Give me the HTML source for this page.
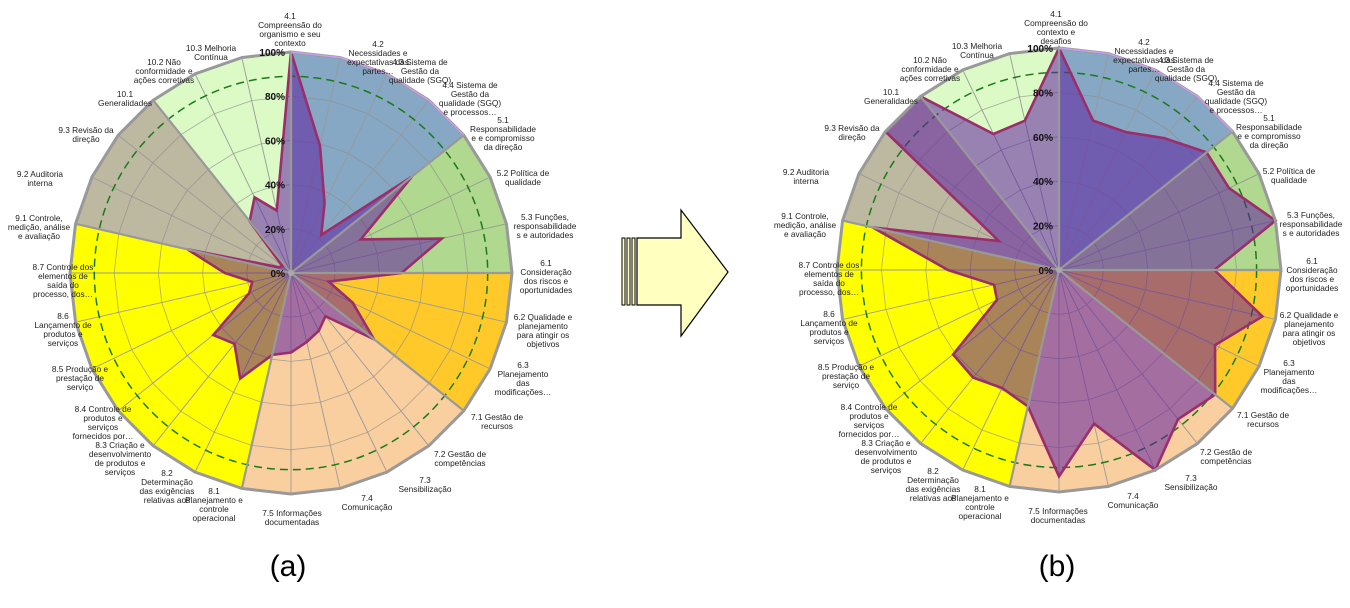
<!DOCTYPE html>
<html><head><meta charset="utf-8"><style>
html,body{margin:0;padding:0;background:#fff;width:1350px;height:608px;overflow:hidden}
svg{display:block}
text{font-family:"Liberation Sans",Arial,sans-serif}
</style></head><body>
<svg id="s" width="1350" height="608" viewBox="0 0 1350 608" xmlns="http://www.w3.org/2000/svg">
<g>
<rect x="622" y="238" width="3" height="67" fill="#ffffc0" stroke="#000" stroke-width="1"/>
<rect x="627" y="238" width="3" height="67" fill="#ffffc0" stroke="#000" stroke-width="1"/>
<rect x="632" y="238" width="3" height="67" fill="#ffffc0" stroke="#000" stroke-width="1"/>
<polygon points="637,238 681,238 681,210 728,272 681,336 681,305 637,305" fill="#ffffc0" stroke="#000" stroke-width="1.2"/>
</g>
<text x="288" y="576" font-size="30" text-anchor="middle" fill="#000">(a)</text>
<text x="1057" y="576" font-size="30" text-anchor="middle" fill="#000">(b)</text>
</svg>
<script>
const NS="http://www.w3.org/2000/svg";
const svg=document.getElementById('s');
function el(t,a,p){const e=document.createElementNS(NS,t);for(const k in a)e.setAttribute(k,a[k]);(p||svg).appendChild(e);return e;}
const N=28;
const sectors=[[0,4,'#86a8c4'],[4,7,'#b0d88e'],[7,10,'#ffc92a'],[10,15,'#f9cfa0'],[15,22,'#ffff00'],[22,25,'#bdb8a0'],[25,28,'#dbfac6']];
const labA=[
[290,12,["4.1","Compreensão do","organismo e seu","contexto"]],
[378,40,["4.2","Necessidades e","expectativas das","partes…"]],
[420,58,["4.3 Sistema de","Gestão da","qualidade (SGQ)"]],
[470,81,["4.4 Sistema de","Gestão da","qualidade (SGQ)","e processos…"]],
[503,116,["5.1","Responsabilidade","e e compromisso","da direção"]],
[523,169,["5.2 Política de","qualidade"]],
[545,213,["5.3 Funções,","responsabilidade","s e autoridades"]],
[546,259,["6.1","Consideração","dos riscos e","oportunidades"]],
[543,313,["6.2 Qualidade e","planejamento","para atingir os","objetivos"]],
[523,361,["6.3","Planejamento","das","modificações…"]],
[497,413,["7.1 Gestão de","recursos"]],
[460,450,["7.2 Gestão de","competências"]],
[425,476,["7.3","Sensibilização"]],
[367,494,["7.4","Comunicação"]],
[292,509,["7.5 Informações","documentadas"]],
[214,487,["8.1","Planejamento e","controle","operacional"]],
[167,469,["8.2","Determinação","das exigências","relativas aos"]],
[120,441,["8.3 Criação e","desenvolvimento","de  produtos e","serviços"]],
[103,405,["8.4 Controle de","produtos e","serviços","fornecidos por…"]],
[80,365,["8.5 Produção e","prestação  de","serviço"]],
[63,312,["8.6","Lançamento de","produtos e","serviços"]],
[63,263,["8.7 Controle dos","elementos de","saída do","processo, dos…"]],
[39,214,["9.1 Controle,","medição, análise","e avaliação"]],
[40,170,["9.2 Auditoria","interna"]],
[86,126,["9.3 Revisão da","direção"]],
[125,90,["10.1","Generalidades"]],
[164,58,["10.2 Não","conformidade e","ações corretivas"]],
[211,44,["10.3  Melhoria","Contínua"]]];
const dataA=[100,59,35,22,70,35,70,50,17.5,31,48,25,29,32,36,38,53,41,45,21,18,30,48,6,5,30,38,29];
const dataB=[100,69,69,76,85,85,100,70,94,78,90,86,100,71,93,63,59,62,61,31,30,50,86,30,100,100,68,69];
function pt(cx,cy,r,i){const a=i*2*Math.PI/N;return [cx+r*Math.sin(a),cy-r*Math.cos(a)];}
function chart(cx,cy,R,data,dx,dy,lab41){
  const g=el('g',{});
  sectors.forEach(([a,b,c])=>{let p=[[cx,cy]];for(let i=a;i<=b;i++)p.push(pt(cx,cy,R,i));
    el('polygon',{points:p.map(q=>q.join(',')).join(' '),fill:c,stroke:'none'},g);});
  for(let k=1;k<=4;k++){let p=[];for(let i=0;i<N;i++)p.push(pt(cx,cy,R*k/5,i));
    el('polygon',{points:p.map(q=>q.join(',')).join(' '),fill:'none',stroke:'#8a8a8a','stroke-width':0.8,'stroke-opacity':0.7},g);}
  for(let i=0;i<N;i++){const q=pt(cx,cy,R,i);el('line',{x1:cx,y1:cy,x2:q[0],y2:q[1],stroke:'#999','stroke-width':0.9},g);}
  el('circle',{cx:cx,cy:cy,r:R*0.89,fill:'none',stroke:'#1a7a1a','stroke-width':1.5,'stroke-dasharray':'8,5'},g);
  let p=data.map((v,i)=>pt(cx,cy,R*v/100,i));
  el('polygon',{points:p.map(q=>q.join(',')).join(' '),fill:'rgba(97,31,160,0.55)',stroke:'#9b2e6a','stroke-width':2.6,'stroke-linejoin':'miter'},g);
  sectors.forEach(([a])=>{const q=pt(cx,cy,R,a);el('line',{x1:cx,y1:cy,x2:q[0],y2:q[1],stroke:'#999','stroke-width':2.2},g);});
  let op=[];for(let i=0;i<N;i++)op.push(pt(cx,cy,R,i));
  el('polygon',{points:op.map(q=>q.join(',')).join(' '),fill:'none',stroke:'#999','stroke-width':3},g);
  let bp=[];for(let i=0;i<=4;i++)bp.push(pt(cx,cy,R,i));
  el('polyline',{points:bp.map(q=>q.join(',')).join(' '),fill:'none',stroke:'#c8a0f0','stroke-width':1.5},g);
  el('circle',{cx:cx,cy:cy,r:3,fill:'#aaa'},g);
  ['0%','20%','40%','60%','80%','100%'].forEach((t,k)=>{
    const y=cy-R*k/5+4;const tx=el('text',{x:cx-6,y:y,'font-size':10,'font-weight':'bold','text-anchor':'end',fill:'#111'},g);tx.textContent=t;});
  labA.forEach((L,i)=>{let lines=L[2];if(i==0&&lab41)lines=lab41;
    lines.forEach((s,j)=>{const t=el('text',{x:L[0]+dx,y:L[1]+dy+j*9+7,'font-size':8.3,'text-anchor':'middle',fill:'#222'},g);t.textContent=s;});});
}
chart(291,273,221,dataA,0,0,null);
chart(1059,270,222,dataB,766,-2,["4.1","Compreensão do","contexto e","desafios"]);
</script>
</body></html>
